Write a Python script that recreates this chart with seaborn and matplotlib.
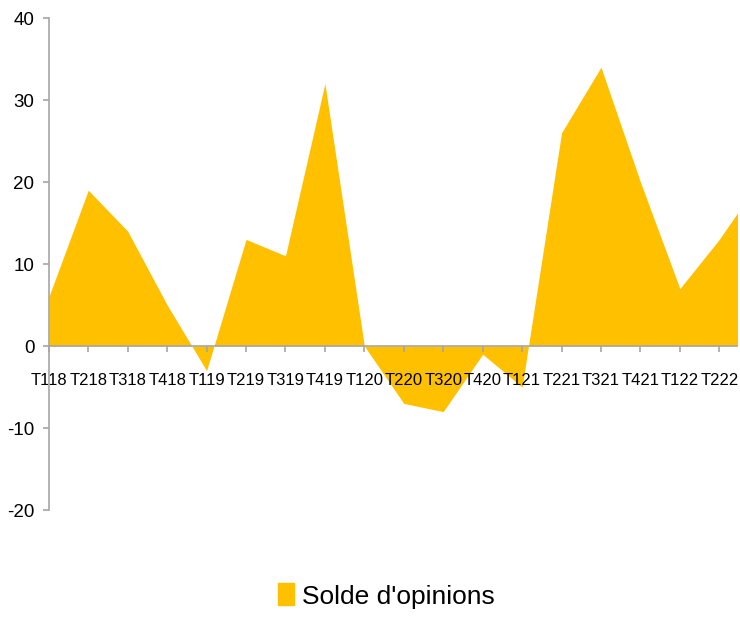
import matplotlib.pyplot as plt
import matplotlib.patches as mpatches
import seaborn as sns
import pandas as pd

# --- DATA ---
trimestres = ['T118', 'T218', 'T318', 'T418', 'T119', 'T219', 'T319', 'T419', 'T120',
              'T220', 'T320', 'T420', 'T121', 'T221', 'T321', 'T421', 'T122', 'T222', 'T322']
solde = [6, 19, 14, 5, -3, 13, 11, 32, 0, -7, -8, -1, -5, 26, 34, 20, 7, 13, 20]
y_ticks = [-20, -10, 0, 10, 20, 30, 40]
# -------------

GOLD = '#FFC000'
GREY = '#A6A6A6'

sns.set_style("white")
plt.rcParams['font.family'] = ['Liberation Sans', 'DejaVu Sans']
plt.rcParams['axes.unicode_minus'] = False

df = pd.DataFrame({'trimestre': trimestres, 'solde': solde})
df['pos'] = range(len(df))

fig = plt.figure(figsize=(7.4, 6.17), dpi=100)
ax = fig.add_axes([0.066, 0.1734, 0.93, 0.7974])
ax.set_axisbelow(False)  # tick labels sit on top of the area

# the series runs one quarter past the visible edge, as in the original crop
ax.fill_between(df['pos'], df['solde'], 0, color=GOLD, linewidth=0, zorder=1)

ax.set_xlim(0, 17.45)
ax.set_ylim(-20, 40)
ax.set_yticks(y_ticks)
ax.set_xticks(df['pos'][:18])
ax.set_xticklabels(df['trimestre'][:18])

for s in ['top', 'right']:
    ax.spines[s].set_visible(False)
ax.spines['bottom'].set_position(('data', 0))
for s in ['left', 'bottom']:
    ax.spines[s].set_color(GREY)
    ax.spines[s].set_linewidth(1.2)
    ax.spines[s].set_zorder(3)

ax.tick_params(axis='y', direction='out', length=4.5, width=1.2, color=GREY,
               labelsize=13.5, pad=6, labelcolor='black', left=True)
ax.tick_params(axis='x', direction='out', length=4.5, width=1.2, color=GREY,
               labelsize=12, pad=15, labelcolor='black', bottom=True)

handle = mpatches.Patch(color=GOLD, label="Solde d'opinions")
fig.legend(handles=[handle], loc='center', bbox_to_anchor=(0.522, 0.034),
           frameon=False, fontsize=19, handlelength=0.6, handleheight=0.9,
           handletextpad=0.3, labelcolor='black')

fig.savefig('out.png', dpi=100)
